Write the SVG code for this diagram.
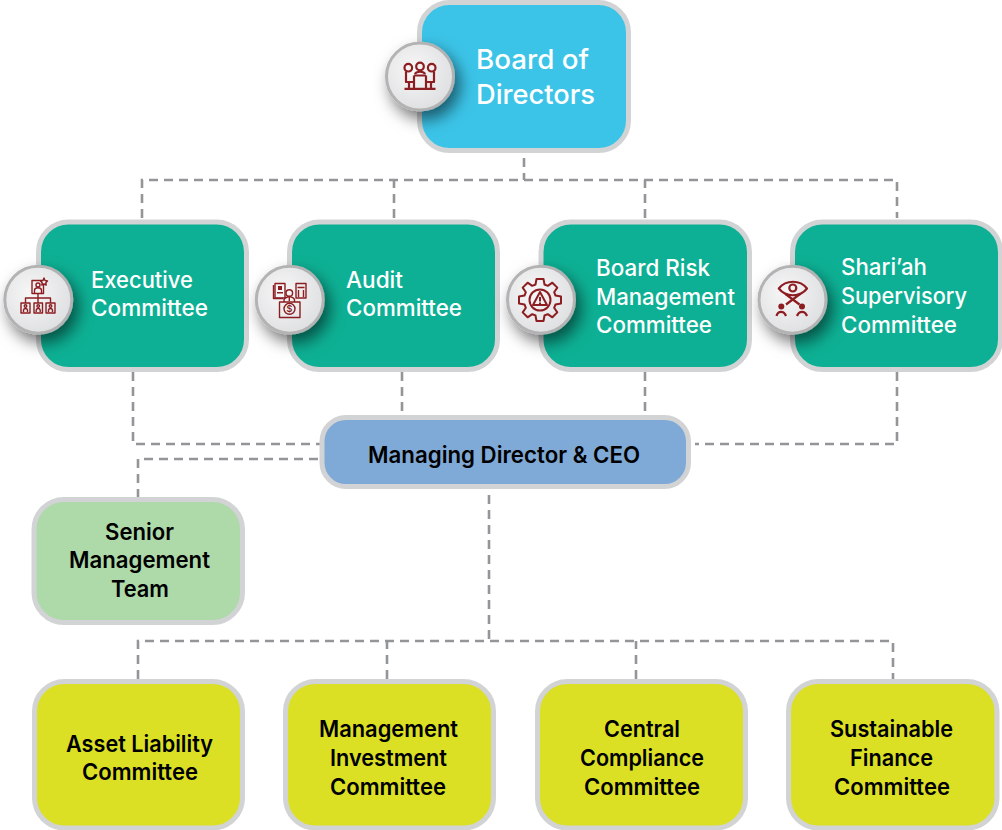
<svg xmlns="http://www.w3.org/2000/svg" width="1002" height="830" viewBox="0 0 1002 830">
<style>
.box{stroke:#d1d3d4;stroke-width:5}
.blue{fill:#3bc4e8}.green{fill:#0db094}.md{fill:#7fa9d6}.smt{fill:#aed9a9}.yel{fill:#dbe024}
.conn{fill:none;stroke:#939598;stroke-width:2.6;stroke-dasharray:9 6}
.badge{fill:url(#bg);stroke:#b3b3b3;stroke-width:3;filter:url(#sh)}
.ic{fill:none;stroke:#8c1d21;stroke-width:1.7;stroke-linejoin:round}
.icf{fill:#8c1d21;stroke:none}
text{font-family:"Inter","Liberation Sans",sans-serif;font-variant-ligatures:none}
.w{fill:#fff;font-size:22.500px;font-weight:500}
.k{fill:#000;font-size:22.500px;font-weight:600}
</style>
<defs>
<radialGradient id="bg" cx="0.4" cy="0.4" r="0.7"><stop offset="0" stop-color="#f7f7f7"/><stop offset="1" stop-color="#dcdddf"/></radialGradient>
<filter id="sh" x="-60%" y="-60%" width="240%" height="240%"><feDropShadow dx="5" dy="8" stdDeviation="8" flood-color="#000" flood-opacity="0.55"/></filter>
</defs>
<g id="connectors">
<path class="conn" d="M524 158V180M142 218V180H897V218M394 218V180M645 218V180"/>
<path class="conn" d="M133 372V444H320M402 372V415M645 372V415M897 372V444H695"/>
<path class="conn" d="M318 459H138V497"/>
<path class="conn" d="M489 495V641M138 679V641H893V679M387 679V641M636 679V641"/>
</g>
<g id="board"><rect class="box blue" x="419.500" y="2.500" width="209" height="148" rx="30"/>
<text class="w" style="font-size:27.500px"><tspan x="476" y="69" textLength="113" lengthAdjust="spacingAndGlyphs">Board of</tspan><tspan x="476" y="104" textLength="119" lengthAdjust="spacingAndGlyphs">Directors</tspan></text>
<circle class="badge" cx="420" cy="76.500" r="33.500"/>
<g class="ic" style="stroke-width:2.200"><circle cx="408.300" cy="67.700" r="3.800"/><circle cx="420" cy="66.500" r="3.800"/><circle cx="431.700" cy="67.700" r="3.800"/>
<path d="M414 88V75.500M426 88V75.500M414 75.500H426M415 74C416 71 424 71 425 74M406 71.500V82H414M434 71.500V82H426M409 82V88.500M431 82V88.500M404.500 88.800H435.500"/></g></g>
<g id="executive"><rect class="box green" x="38.500" y="222" width="208" height="147.500" rx="30"/>
<text class="w"><tspan x="91" y="288" textLength="102" lengthAdjust="spacingAndGlyphs">Executive</tspan><tspan x="91" y="316" textLength="117" lengthAdjust="spacingAndGlyphs">Committee</tspan></text>
<circle class="badge" cx="38.300" cy="299.700" r="33.500"/>
<g class="ic" style="stroke-width:1.400"><rect x="32" y="280.500" width="11.500" height="13"/><circle cx="38" cy="285" r="2"/><path d="M34.500 293V290C35 287 41 287 41.500 290V293M38 293.500V298M25.500 303V298H50.500V303M38 298V303"/>
<path d="M44 278L45 280.500L47.500 281L45.800 282.700L46.200 285L44 284L41.800 285L42.200 282.700L40.500 281L43 280.500Z" fill="#f2f2f2"/>
<rect x="21" y="303" width="9" height="10"/><rect x="34" y="303" width="8.500" height="10"/><rect x="46" y="303" width="9" height="10"/>
<circle cx="25.500" cy="306" r="1.300"/><circle cx="38.200" cy="306" r="1.300"/><circle cx="50.500" cy="306" r="1.300"/>
<path d="M23.500 312V310C24 308 27 308 27.500 310V312M36.200 312V310C36.700 308 39.700 308 40.200 310V312M48.500 312V310C49 308 52 308 52.500 310V312"/></g></g>
<g id="audit"><rect class="box green" x="289.500" y="222" width="208" height="147.500" rx="30"/>
<text class="w"><tspan x="346" y="288" textLength="57" lengthAdjust="spacingAndGlyphs">Audit</tspan><tspan x="346" y="316" textLength="116" lengthAdjust="spacingAndGlyphs">Committee</tspan></text>
<circle class="badge" cx="289.800" cy="299.700" r="33.500"/>
<g class="ic" style="stroke-width:1.400"><rect x="275" y="283.500" width="10" height="14.500"/><path d="M273.500 285V298.500H283"/><path class="icf" d="M278 286H282V290H278ZM277 292H283V293.500H277Z"/>
<rect x="296" y="283.500" width="10" height="14.500"/><path d="M297.500 287.500H304.500M298.500 290V297M303.500 290V297"/>
<circle cx="289.300" cy="293" r="3.300"/><path d="M284 302V299.500C285 297 288 297 289.300 296.500C290.500 297 294 297 294.500 299.500V302M289.300 297V301"/>
<rect x="279.500" y="302" width="20.500" height="15.500"/><circle cx="289.500" cy="308.800" r="5.500"/></g>
<text x="289.500" y="312" text-anchor="middle" fill="#8c1d21" style="font-size:9px;font-weight:600">$</text></g>
<g id="risk"><rect class="box green" x="541" y="222" width="208.500" height="147.500" rx="30"/>
<text class="w"><tspan x="596" y="276" textLength="114" lengthAdjust="spacingAndGlyphs">Board Risk</tspan><tspan x="596" y="305" textLength="139" lengthAdjust="spacingAndGlyphs">Management</tspan><tspan x="596" y="333" textLength="116" lengthAdjust="spacingAndGlyphs">Committee</tspan></text>
<circle class="badge" cx="541" cy="299.700" r="33.500"/>
<g class="ic" transform="translate(540 300)" style="stroke-width:2"><path d="M-4.500-15.500L-3.500-21L3.500-21L4.500-15.500L7.780-14.140L12.370-17.320L17.320-12.370L14.140-7.780L15.500-4.500L21-3.500L21 3.500L15.500 4.500L14.140 7.780L17.320 12.370L12.370 17.320L7.780 14.140L4.500 15.500L3.500 21L-3.500 21L-4.500 15.500L-7.780 14.140L-12.370 17.320L-17.320 12.370L-14.140 7.780L-15.500 4.500L-21 3.500L-21-3.500L-15.500-4.500L-14.140-7.780L-17.320-12.370L-12.370-17.320L-7.780-14.140Z"/>
<circle r="10.500"/><path d="M0-8L7 5H-7Z"/><path d="M0-3V1.500M0 2.500V4"/></g></g>
<g id="shariah"><rect class="box green" x="792.500" y="222" width="208" height="147.500" rx="30"/>
<text class="w"><tspan x="841" y="275" textLength="86" lengthAdjust="spacingAndGlyphs">Shari’ah</tspan><tspan x="841" y="304" textLength="126" lengthAdjust="spacingAndGlyphs">Supervisory</tspan><tspan x="841" y="333" textLength="116" lengthAdjust="spacingAndGlyphs">Committee</tspan></text>
<circle class="badge" cx="792.500" cy="299.700" r="33.500"/>
<g class="ic" style="stroke-width:2.200"><path d="M778.800 288.500C786 279.500 800 279.500 807 288.500C800 297.500 786 297.500 778.800 288.500Z"/><circle cx="792.800" cy="288" r="3.500"/>
<path d="M785.500 294L799.500 304.500M800 294L786 304.500M776.500 316C778 310.500 784 310.500 786 316M797 316C799 310.500 805 310.500 807 316"/></g>
<circle class="icf" cx="781.300" cy="306.500" r="3"/><circle class="icf" cx="802" cy="306.500" r="3"/></g>
<g id="md"><rect class="box md" x="322" y="417.500" width="366.500" height="69" rx="24"/>
<text class="k" x="368" y="462.500" textLength="272" lengthAdjust="spacingAndGlyphs">Managing Director &amp; CEO</text></g>
<g id="smt"><rect class="box smt" x="34" y="499.500" width="208.500" height="123" rx="30"/>
<text class="k"><tspan x="105" y="539.500" textLength="69" lengthAdjust="spacingAndGlyphs">Senior</tspan><tspan x="69" y="568" textLength="141" lengthAdjust="spacingAndGlyphs">Management</tspan><tspan x="111" y="596.500" textLength="58" lengthAdjust="spacingAndGlyphs">Team</tspan></text></g>
<g id="alco"><rect class="box yel" x="34.500" y="681.500" width="208" height="146.500" rx="30"/>
<text class="k"><tspan x="66" y="751.500" textLength="147" lengthAdjust="spacingAndGlyphs">Asset Liability</tspan><tspan x="82" y="780" textLength="116" lengthAdjust="spacingAndGlyphs">Committee</tspan></text></g>
<g id="mic"><rect class="box yel" x="285.500" y="681.500" width="208" height="146.500" rx="30"/>
<text class="k"><tspan x="319" y="737" textLength="139" lengthAdjust="spacingAndGlyphs">Management</tspan><tspan x="330" y="766" textLength="117" lengthAdjust="spacingAndGlyphs">Investment</tspan><tspan x="330" y="795" textLength="116" lengthAdjust="spacingAndGlyphs">Committee</tspan></text></g>
<g id="ccc"><rect class="box yel" x="537.500" y="681.500" width="208" height="146.500" rx="30"/>
<text class="k"><tspan x="604" y="737" textLength="76" lengthAdjust="spacingAndGlyphs">Central</tspan><tspan x="580" y="766" textLength="124" lengthAdjust="spacingAndGlyphs">Compliance</tspan><tspan x="584" y="795" textLength="116" lengthAdjust="spacingAndGlyphs">Committee</tspan></text></g>
<g id="sfc"><rect class="box yel" x="788.500" y="681.500" width="208.500" height="146.500" rx="30"/>
<text class="k"><tspan x="830" y="737" textLength="123" lengthAdjust="spacingAndGlyphs">Sustainable</tspan><tspan x="850" y="766" textLength="83" lengthAdjust="spacingAndGlyphs">Finance</tspan><tspan x="834" y="795" textLength="116" lengthAdjust="spacingAndGlyphs">Committee</tspan></text></g>
</svg>
